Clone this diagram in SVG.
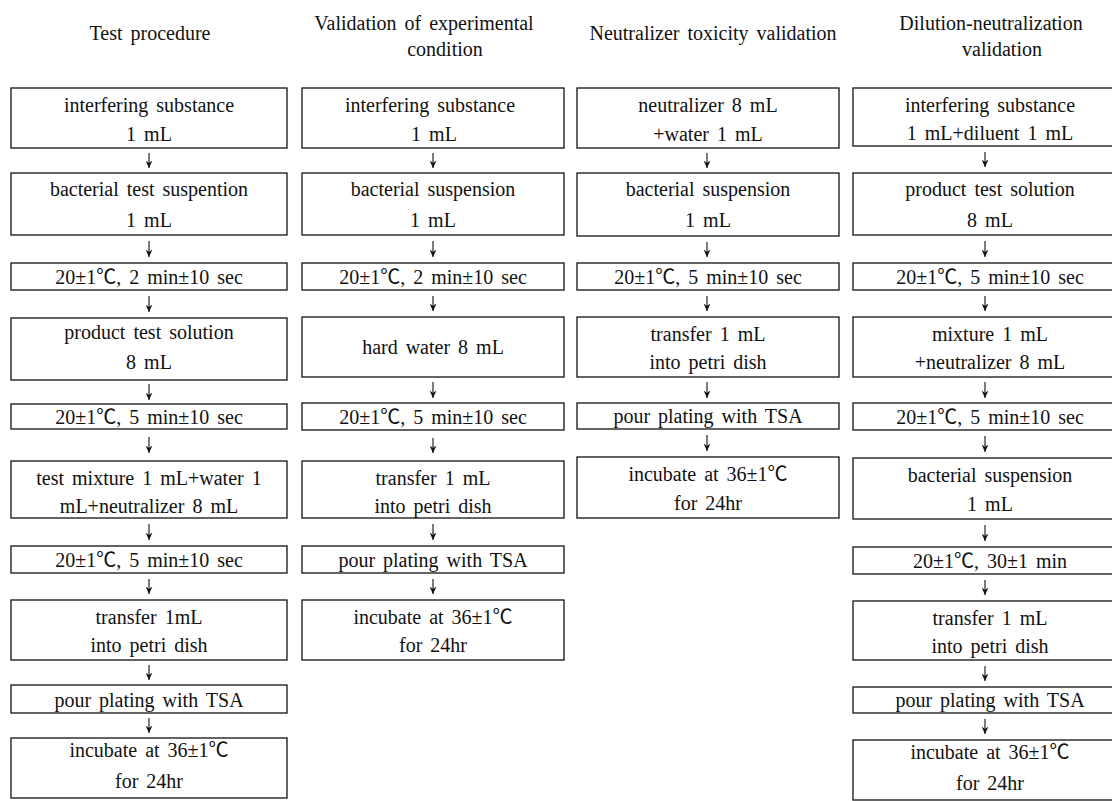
<svg xmlns="http://www.w3.org/2000/svg" width="1112" height="801" viewBox="0 0 1112 801">
<style>
.box{fill:#fff;stroke:#111;stroke-width:1.3}
.t{font-family:"Liberation Serif","Noto Sans CJK KR",serif;font-size:20px;text-anchor:middle;fill:#111;word-spacing:3px}
.c{fill:none;stroke:#111;stroke-width:1.1;marker-end:url(#ah)}
</style>
<defs>
<marker id="ah" markerUnits="userSpaceOnUse" markerWidth="7" markerHeight="8" viewBox="0 0 7 8" refX="3.5" refY="7.5" orient="0">
<path d="M0,0 L3.5,7.5 L7,0 L3.5,2.5 z" fill="#111"/>
</marker>
</defs>
<rect width="1112" height="801" fill="#fff"/>
<g id="titles">
<text class="t" x="150" y="40">Test procedure</text>
<text class="t" x="424" y="30">Validation of experimental</text>
<text class="t" x="445" y="56">condition</text>
<text class="t" x="713" y="40">Neutralizer toxicity validation</text>
<text class="t" x="991" y="30">Dilution-neutralization</text>
<text class="t" x="1002" y="56">validation</text>
</g>
<g id="connectors">
<path class="c" d="M149,153 V168"/><path class="c" d="M149,241 V257"/><path class="c" d="M149,296 V312"/><path class="c" d="M149,384 V400"/><path class="c" d="M149,437 V453"/><path class="c" d="M149,524 V540"/><path class="c" d="M149,579 V594"/><path class="c" d="M149,665 V680"/><path class="c" d="M149,718 V733"/>
<path class="c" d="M433,153 V168"/><path class="c" d="M433,241 V257"/><path class="c" d="M433,296 V311"/><path class="c" d="M433,382 V398"/><path class="c" d="M433,438 V453"/><path class="c" d="M433,524 V540"/><path class="c" d="M433,579 V594"/>
<path class="c" d="M707,153 V168"/><path class="c" d="M707,242 V257"/><path class="c" d="M707,296 V311"/><path class="c" d="M707,382 V398"/><path class="c" d="M707,435 V451"/>
<path class="c" d="M985,152 V167"/><path class="c" d="M985,241 V257"/><path class="c" d="M985,296 V311"/><path class="c" d="M985,382 V398"/><path class="c" d="M985,436 V452"/><path class="c" d="M985,525 V541"/><path class="c" d="M985,580 V595"/><path class="c" d="M985,666 V681"/><path class="c" d="M985,719 V734"/>
</g>
<g id="col1">
<g id="c1n1"><rect class="box" x="11" y="88" width="276" height="60"/><text class="t" x="149" y="112">interfering substance</text><text class="t" x="149" y="141">1 mL</text></g>
<g id="c1n2"><rect class="box" x="11" y="173" width="276" height="62"/><text class="t" x="149" y="196">bacterial test suspention</text><text class="t" x="149" y="227">1 mL</text></g>
<g id="c1n3"><rect class="box" x="11" y="263" width="276" height="27"/><text class="t" x="149" y="284">20±1℃, 2 min±10 sec</text></g>
<g id="c1n4"><rect class="box" x="11" y="318" width="276" height="62"/><text class="t" x="149" y="339">product test solution</text><text class="t" x="149" y="369">8 mL</text></g>
<g id="c1n5"><rect class="box" x="11" y="404" width="276" height="25"/><text class="t" x="149" y="424">20±1℃, 5 min±10 sec</text></g>
<g id="c1n6"><rect class="box" x="11" y="461" width="276" height="57"/><text class="t" x="149" y="485">test mixture 1 mL+water 1</text><text class="t" x="149" y="513">mL+neutralizer 8 mL</text></g>
<g id="c1n7"><rect class="box" x="11" y="546" width="276" height="27"/><text class="t" x="149" y="567">20±1℃, 5 min±10 sec</text></g>
<g id="c1n8"><rect class="box" x="11" y="600" width="276" height="60"/><text class="t" x="149" y="624">transfer 1mL</text><text class="t" x="149" y="652">into petri dish</text></g>
<g id="c1n9"><rect class="box" x="11" y="685" width="276" height="28"/><text class="t" x="149" y="707">pour plating with TSA</text></g>
<g id="c1n10"><rect class="box" x="11" y="738" width="276" height="60"/><text class="t" x="149" y="757">incubate at 36±1℃</text><text class="t" x="149" y="788">for 24hr</text></g>
</g>
<g id="col2">
<g id="c2n1"><rect class="box" x="302" y="88" width="262" height="60"/><text class="t" x="430" y="112">interfering substance</text><text class="t" x="434" y="141">1 mL</text></g>
<g id="c2n2"><rect class="box" x="302" y="173" width="262" height="62"/><text class="t" x="433" y="196">bacterial suspension</text><text class="t" x="433" y="227">1 mL</text></g>
<g id="c2n3"><rect class="box" x="302" y="263" width="262" height="27"/><text class="t" x="433" y="284">20±1℃, 2 min±10 sec</text></g>
<g id="c2n4"><rect class="box" x="302" y="317" width="262" height="60"/><text class="t" x="433" y="354">hard water 8 mL</text></g>
<g id="c2n5"><rect class="box" x="302" y="403" width="262" height="27"/><text class="t" x="433" y="424">20±1℃, 5 min±10 sec</text></g>
<g id="c2n6"><rect class="box" x="302" y="461" width="262" height="57"/><text class="t" x="433" y="485">transfer 1 mL</text><text class="t" x="433" y="513">into petri dish</text></g>
<g id="c2n7"><rect class="box" x="302" y="546" width="262" height="27"/><text class="t" x="433" y="567">pour plating with TSA</text></g>
<g id="c2n8"><rect class="box" x="302" y="600" width="262" height="60"/><text class="t" x="433" y="624">incubate at 36±1℃</text><text class="t" x="433" y="652">for 24hr</text></g>
</g>
<g id="col3">
<g id="c3n1"><rect class="box" x="577" y="88" width="262" height="60"/><text class="t" x="708" y="112">neutralizer 8 mL</text><text class="t" x="708" y="141">+water 1 mL</text></g>
<g id="c3n2"><rect class="box" x="577" y="173" width="262" height="63"/><text class="t" x="708" y="196">bacterial suspension</text><text class="t" x="708" y="227">1 mL</text></g>
<g id="c3n3"><rect class="box" x="577" y="263" width="262" height="27"/><text class="t" x="708" y="284">20±1℃, 5 min±10 sec</text></g>
<g id="c3n4"><rect class="box" x="577" y="317" width="262" height="60"/><text class="t" x="708" y="341">transfer 1 mL</text><text class="t" x="708" y="369">into petri dish</text></g>
<g id="c3n5"><rect class="box" x="577" y="403" width="262" height="26"/><text class="t" x="708" y="423">pour plating with TSA</text></g>
<g id="c3n6"><rect class="box" x="577" y="457" width="262" height="61"/><text class="t" x="708" y="481">incubate at 36±1℃</text><text class="t" x="708" y="510">for 24hr</text></g>
</g>
<g id="col4">
<g id="c4n1"><rect class="box" x="853" y="88" width="274" height="58"/><text class="t" x="990" y="112">interfering substance</text><text class="t" x="990" y="140">1 mL+diluent 1 mL</text></g>
<g id="c4n2"><rect class="box" x="853" y="173" width="274" height="62"/><text class="t" x="990" y="196">product test solution</text><text class="t" x="990" y="227">8 mL</text></g>
<g id="c4n3"><rect class="box" x="853" y="263" width="274" height="27"/><text class="t" x="990" y="284">20±1℃, 5 min±10 sec</text></g>
<g id="c4n4"><rect class="box" x="853" y="317" width="274" height="60"/><text class="t" x="990" y="341">mixture 1 mL</text><text class="t" x="990" y="369">+neutralizer 8 mL</text></g>
<g id="c4n5"><rect class="box" x="853" y="403" width="274" height="27"/><text class="t" x="990" y="424">20±1℃, 5 min±10 sec</text></g>
<g id="c4n6"><rect class="box" x="853" y="458" width="274" height="61"/><text class="t" x="990" y="482">bacterial suspension</text><text class="t" x="990" y="511">1 mL</text></g>
<g id="c4n7"><rect class="box" x="853" y="547" width="274" height="27"/><text class="t" x="990" y="568">20±1℃, 30±1 min</text></g>
<g id="c4n8"><rect class="box" x="853" y="601" width="274" height="59"/><text class="t" x="990" y="625">transfer 1 mL</text><text class="t" x="990" y="653">into petri dish</text></g>
<g id="c4n9"><rect class="box" x="853" y="687" width="274" height="26"/><text class="t" x="990" y="707">pour plating with TSA</text></g>
<g id="c4n10"><rect class="box" x="853" y="740" width="274" height="60"/><text class="t" x="990" y="759">incubate at 36±1℃</text><text class="t" x="990" y="790">for 24hr</text></g>
</g>
</svg>
